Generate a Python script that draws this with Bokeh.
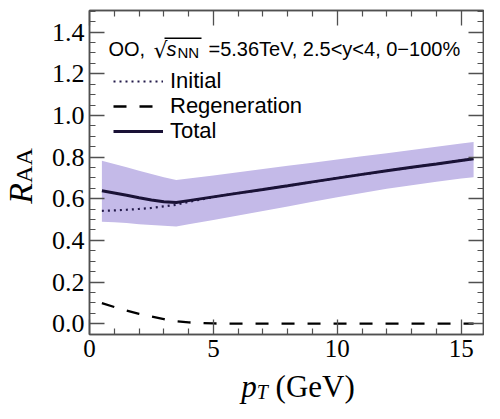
import math
from bokeh.plotting import figure
from bokeh.layouts import row, column
from bokeh.models import (Label, Legend, LegendItem, LinearAxis, FixedTicker, Div,
                          NumeralTickFormatter, BoxAnnotation, ColumnDataSource,
                          CustomLabelingPolicy)
from bokeh.embed import file_html
from bokeh.resources import INLINE

# ---- data ----
pt = [0.5, 1, 1.5, 2, 2.5, 3, 3.5, 4, 5, 6, 7, 8, 9, 10, 11, 12, 13, 14, 15, 15.5]
total = [0.638, 0.628, 0.617, 0.605, 0.594, 0.586, 0.582, 0.591, 0.609, 0.627,
         0.644, 0.662, 0.681, 0.699, 0.717, 0.734, 0.751, 0.767, 0.784, 0.792]
total_hi = [0.783, 0.767, 0.751, 0.735, 0.719, 0.703, 0.690, 0.697, 0.712, 0.727,
            0.743, 0.758, 0.773, 0.789, 0.804, 0.819, 0.834, 0.850, 0.865, 0.873]
total_lo = [0.490, 0.487, 0.483, 0.478, 0.474, 0.470, 0.467, 0.477, 0.498, 0.519,
            0.541, 0.563, 0.585, 0.607, 0.628, 0.648, 0.665, 0.682, 0.697, 0.703]
initial = [0.542, 0.544, 0.547, 0.551, 0.556, 0.563, 0.571, 0.585, 0.608, 0.627,
           0.644, 0.662, 0.681, 0.699, 0.717, 0.734, 0.751, 0.767, 0.784, 0.792]
regen = [0.099, 0.080, 0.063, 0.047, 0.034, 0.022, 0.012, 0.006, 0.001, 0.0,
         0.0, 0.0, 0.0, 0.0, 0.0, 0.0, 0.0, 0.0, 0.0, 0.0]

x_major = [0, 5, 10, 15]
x_minor = [v for v in range(0, 17) if v % 5 != 0]
y_major = [0.0, 0.2, 0.4, 0.6, 0.8, 1.0, 1.2, 1.4]
y_minor = [round(-0.05 + 0.05 * i, 2) for i in range(0, 32)]

header_text = "=5.36TeV, 2.5<y<4, 0\u2212100%"
legend_labels = ["Initial", "Regeneration", "Total"]

src = ColumnDataSource(dict(pt=pt, total=total, hi=total_hi, lo=total_lo,
                            initial=initial, regen=regen))

YL_W = 40
PW, PH = 444, 370
XL_H = 33

p = figure(width=PW, height=PH, x_range=(0, 15.9), y_range=(-0.052, 1.504),
           output_backend="svg", toolbar_location=None,
           min_border_left=49, min_border_right=1, min_border_top=10,
           min_border_bottom=36)
p.grid.visible = False
p.background_fill_color = "white"
p.outline_line_color = "#505050"
p.outline_line_width = 1.5

AX = "#505050"


def style_axis(ax, ticks, minor, labels=True):
    ax.ticker = FixedTicker(ticks=ticks, minor_ticks=minor)
    ax.axis_line_color = AX
    ax.axis_line_width = 1.5
    ax.major_tick_line_color = AX
    ax.minor_tick_line_color = AX
    ax.major_tick_line_width = 1.3
    ax.minor_tick_line_width = 1.2
    ax.major_tick_in = 15
    ax.major_tick_out = 0
    ax.minor_tick_in = 6
    ax.minor_tick_out = 0
    if not labels:
        ax.major_label_text_font_size = "0px"
        ax.major_label_standoff = 0
        ax.major_label_policy = CustomLabelingPolicy(code="return []")


style_axis(p.xaxis[0], x_major, x_minor)
p.xaxis[0].major_label_text_font = "Liberation Serif"
p.xaxis[0].major_label_text_font_size = "25px"
p.xaxis[0].major_label_text_color = "black"
p.xaxis[0].major_label_standoff = 5

style_axis(p.yaxis[0], y_major, y_minor)
p.yaxis[0].formatter = NumeralTickFormatter(format="0.0")
p.yaxis[0].major_label_text_font = "Liberation Serif"
p.yaxis[0].major_label_text_font_size = "26px"
p.yaxis[0].major_label_text_color = "black"
p.yaxis[0].major_label_standoff = 5

top_ax = LinearAxis()
style_axis(top_ax, x_major, x_minor, labels=False)
p.add_layout(top_ax, "above")
right_ax = LinearAxis()
style_axis(right_ax, y_major, y_minor, labels=False)
p.add_layout(right_ax, "right")

# ---- data marks ----
p.varea(x="pt", y1="lo", y2="hi", source=src, fill_color="#c4bae8", fill_alpha=1.0)
r_init = p.line(x="pt", y="initial", source=src, line_color="#231a4a",
                line_width=2.2, line_dash="2 4")
r_regen = p.line(x="pt", y="regen", source=src, line_color="black",
                 line_width=2.3, line_dash="13 13")
r_tot = p.line(x="pt", y="total", source=src, line_color="#1a1236", line_width=3)

# one legend per row so the row pitch matches the reference
for lab, rend, ly in zip(legend_labels, [r_init, r_regen, r_tot], [240, 215, 190]):
    lg = Legend(items=[LegendItem(label=lab, renderers=[rend])],
                location=(24, ly), orientation="vertical",
                background_fill_alpha=0, border_line_alpha=0,
                label_text_font="Liberation Sans", label_text_font_size="22px",
                label_text_color="black", glyph_width=50, glyph_height=24,
                label_height=24, label_standoff=7, spacing=0, padding=0, margin=0)
    p.add_layout(lg, "center")

# ---- header text (inside the frame) ----
sans = "Liberation Sans"
HB = 286
hdr = dict(x_units="screen", y_units="screen", text_color="black",
           text_baseline="alphabetic")
p.add_layout(Label(x=19, y=HB, text="OO,", text_font=sans, text_font_size="20px", **hdr))
p.add_layout(Label(x=64, y=HB - 2, text="\u221a", text_font="DejaVu Sans",
                   text_font_size="22px", **hdr))
p.add_layout(Label(x=77, y=HB, text="s", text_font=sans, text_font_style="italic",
                   text_font_size="20px", **hdr))
p.add_layout(Label(x=88, y=HB - 4, text="NN", text_font=sans, text_font_size="15px", **hdr))
p.add_layout(Label(x=119, y=HB, text=header_text, text_font=sans,
                   text_font_size="20px", **hdr))
p.add_layout(BoxAnnotation(left=75, right=112, bottom=295.6, top=297,
                           left_units="screen", right_units="screen",
                           bottom_units="screen", top_units="screen",
                           fill_color="black", fill_alpha=1, line_alpha=0))

# ---- axis titles as HTML text beside / below the plot ----
serif = "'Liberation Serif', serif"
ylab_html = (
    f'<div style="position:relative;width:{YL_W}px;height:{PH + XL_H}px;">'
    '<div style="position:absolute;left:22px;top:176px;'
    'transform:translate(-50%,-50%) rotate(-90deg);white-space:nowrap;'
    f'font-family:{serif};font-size:34px;line-height:34px;color:black;">'
    '<i>R</i><span style="font-size:24px;">AA</span></div></div>')
xlab_html = (
    f'<div style="position:relative;width:{PW}px;height:{XL_H}px;">'
    '<div style="position:absolute;left:258px;top:0px;transform:translateX(-50%);'
    f'white-space:nowrap;font-family:{serif};font-size:31px;line-height:33px;color:black;">'
    '<i>p</i><span style="font-size:20px;font-style:italic;position:relative;top:2px;">T</span>'
    ' (GeV)</div></div>')

ydiv = Div(text=ylab_html, width=YL_W, height=PH + XL_H, margin=0)
xdiv = Div(text=xlab_html, width=PW, height=XL_H, margin=0)

layout = row(ydiv, column(p, xdiv, spacing=0), spacing=0)

open("out.html", "w").write(file_html(layout, INLINE))
